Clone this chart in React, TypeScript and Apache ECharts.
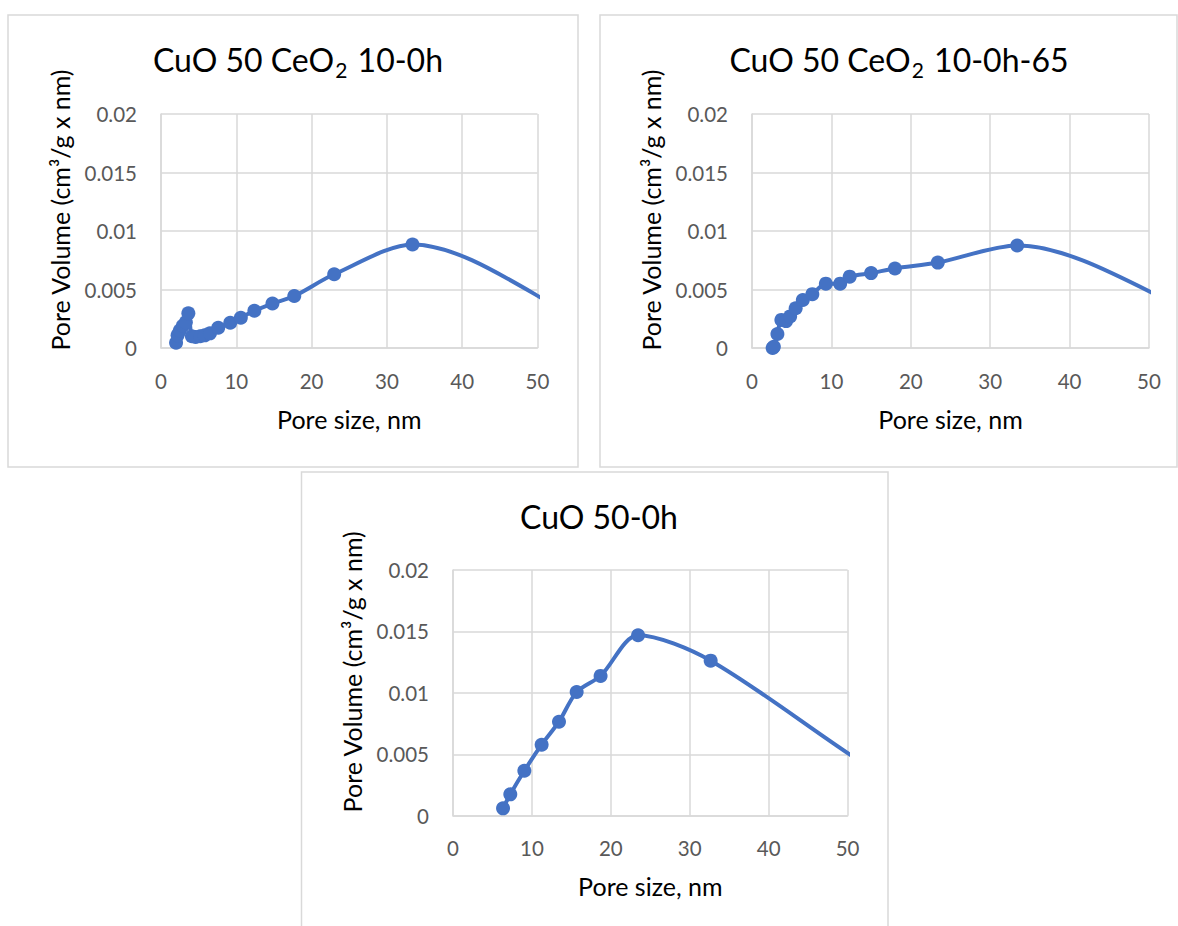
import React, { useEffect, useRef } from "react";
import * as echarts from "echarts";

// Panel titles
const titles1 = ["CuO 50 CeO", "2", " 10-0h"];
const titles2 = ["CuO 50 CeO", "2", " 10-0h-65"];
const title3 = "CuO 50-0h";

// Axis titles and ticks
const xAxisTitle = "Pore size, nm";
const yAxisTitle = "Pore Volume (cm³/g x nm)";
const xTicks = [0, 10, 20, 30, 40, 50];
const yTicks = [0, 0.005, 0.01, 0.015, 0.02];

// CuO 50 CeO2 10-0h (last two points lie beyond the 50 nm axis limit)
const size1 = [2.0, 2.2, 2.5, 2.9, 3.3, 3.63, 4.1, 4.6, 5.2, 5.8, 6.5, 7.6, 9.2, 10.6, 12.4, 14.8, 17.7, 23.0, 33.4, 60, 72];
const vol1 = [0.00045, 0.0011, 0.0015, 0.0019, 0.0022, 0.00296, 0.001, 0.00095, 0.001, 0.00108, 0.00125, 0.00173, 0.00216, 0.00259, 0.00318, 0.0038, 0.00444, 0.0063, 0.00885, 0.0012, 0.0002];

// CuO 50 CeO2 10-0h-65
const size2 = [2.6, 2.75, 3.2, 3.7, 4.3, 4.8, 5.5, 6.4, 7.6, 9.3, 11.1, 12.3, 15.0, 18.0, 23.4, 33.4, 61, 73];
const vol2 = [0.0, 0.0001, 0.0012, 0.0024, 0.0023, 0.0027, 0.0034, 0.0041, 0.0046, 0.0055, 0.0055, 0.0061, 0.0064, 0.0068, 0.0073, 0.00876, 0.0015, 0.00035];

// CuO 50-0h
const size3 = [6.34, 7.26, 9.04, 11.23, 13.43, 15.67, 18.7, 23.45, 32.65, 58, 70];
const vol3 = [0.0006, 0.00174, 0.00366, 0.00578, 0.00765, 0.01007, 0.01138, 0.01469, 0.01262, 0.002, 0.0005];

const BLUE = "#4472C4";
const GRID = "#d9d9d9";
const FONT = "Lato, 'Open Sans', sans-serif";

function zip(xs: number[], ys: number[]) {
  return xs.map((x, i) => [x, ys[i]]);
}

export default function App() {
  const ref = useRef<HTMLDivElement>(null);
  useEffect(() => {
    if (!ref.current) return;
    const chart = echarts.init(ref.current, undefined, { renderer: "svg" });
    const grids = [
      { left: 161, top: 114, width: 376.5, height: 234 },
      { left: 752, top: 114, width: 397, height: 234 },
      { left: 453, top: 570, width: 394.6, height: 245.7 },
    ];
    const mkX = (i: number) => ({
      type: "value",
      gridIndex: i,
      min: xTicks[0],
      max: xTicks[xTicks.length - 1],
      interval: 10,
      axisLine: { show: true, lineStyle: { color: GRID, width: 1.5 } },
      axisTick: { show: false },
      axisLabel: { color: "#595959", fontSize: 20.5, fontFamily: FONT, margin: 22 },
      splitLine: { show: true, lineStyle: { color: GRID, width: 1.5 } },
      name: xAxisTitle,
      nameLocation: "middle",
      nameGap: 58,
      nameTextStyle: { color: "#000", fontSize: 25, fontFamily: FONT },
    });
    const mkY = (i: number) => ({
      type: "value",
      gridIndex: i,
      min: yTicks[0],
      max: yTicks[yTicks.length - 1],
      interval: 0.005,
      axisLine: { show: true, lineStyle: { color: GRID, width: 1.5 } },
      axisTick: { show: false },
      axisLabel: { color: "#595959", fontSize: 20.5, fontFamily: FONT, margin: 24 },
      splitLine: { show: true, lineStyle: { color: GRID, width: 1.5 } },
      name: yAxisTitle,
      nameLocation: "middle",
      nameGap: 89,
      nameTextStyle: { color: "#000", fontSize: 25, fontFamily: FONT, padding: [0, 0, 0, 42] },
    });
    const mkSeries = (i: number, xs: number[], ys: number[]) => ({
      type: "line",
      xAxisIndex: i,
      yAxisIndex: i,
      data: zip(xs, ys),
      smooth: 0.3,
      clip: true,
      symbol: "circle",
      symbolSize: 14,
      lineStyle: { color: BLUE, width: 4 },
      itemStyle: { color: BLUE },
    });
    const richTitle = {
      a: { fontSize: 32, lineHeight: 44, fontFamily: FONT, color: "#000", fontWeight: "normal" },
      s: { fontSize: 21, lineHeight: 21, fontFamily: FONT, color: "#000", fontWeight: "normal", padding: [20, 2, 0, 1] },
    };
    chart.setOption({
      animation: false,
      backgroundColor: "#fff",
      title: [
        {
          text: `{a|${titles1[0]}}{s|${titles1[1]}}{a|${titles1[2]}}`,
          left: 293,
          top: 32,
          textAlign: "center",
          textStyle: { fontWeight: "normal", rich: richTitle },
        },
        {
          text: `{a|${titles2[0]}}{s|${titles2[1]}}{a|${titles2[2]}}`,
          left: 894,
          top: 32,
          textAlign: "center",
          textStyle: { fontWeight: "normal", rich: richTitle },
        },
        {
          text: title3,
          left: 594,
          top: 489,
          textAlign: "center",
          textStyle: { fontSize: 32, lineHeight: 44, fontFamily: FONT, color: "#000", fontWeight: "normal" },
        },
      ],
      grid: grids,
      xAxis: [mkX(0), mkX(1), mkX(2)],
      yAxis: [mkY(0), mkY(1), mkY(2)],
      series: [mkSeries(0, size1, vol1), mkSeries(1, size2, vol2), mkSeries(2, size3, vol3)],
      graphic: [
        { type: "rect", shape: { x: 8, y: 15, width: 570, height: 452 }, style: { fill: "none", stroke: GRID, lineWidth: 1.5 }, silent: true },
        { type: "rect", shape: { x: 600, y: 15, width: 577, height: 452 }, style: { fill: "none", stroke: GRID, lineWidth: 1.5 }, silent: true },
        { type: "rect", shape: { x: 301.5, y: 472, width: 586.5, height: 470 }, style: { fill: "none", stroke: GRID, lineWidth: 1.5 }, silent: true },
      ],
    });
    return () => chart.dispose();
  }, []);
  return (
    <div
      ref={ref}
      style={{ position: "absolute", left: 0, top: 0, width: 1178, height: 926 }}
    />
  );
}
